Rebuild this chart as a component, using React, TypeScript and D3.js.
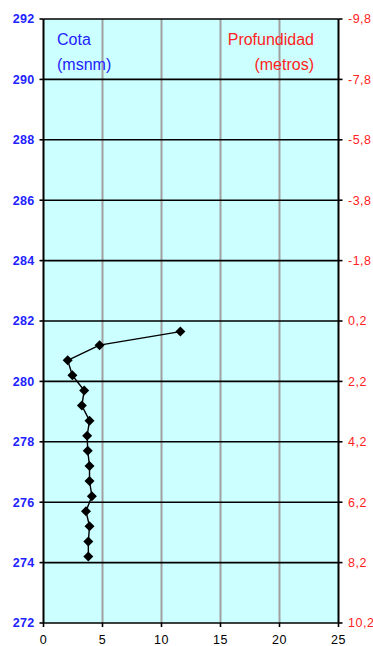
import React from "react";
import * as d3 from "d3";

const depths = [0.55, 1.0, 1.5, 2.0, 2.5, 3.0, 3.5, 4.0, 4.5, 5.0, 5.5, 6.0, 6.5, 7.0, 7.5, 8.0];
const values = [11.6, 4.75, 2.05, 2.45, 3.45, 3.25, 3.9, 3.7, 3.75, 3.9, 3.9, 4.1, 3.6, 3.9, 3.8, 3.8];
const surfaceElev = 282.2;
const leftTicks = [272, 274, 276, 278, 280, 282, 284, 286, 288, 290, 292];
const rightTickLabels = ["10,2", "8,2", "6,2", "4,2", "2,2", "0,2", "-1,8", "-3,8", "-5,8", "-7,8", "-9,8"];
const xTicks = [0, 5, 10, 15, 20, 25];

const W = 373, H = 646;
const M = { left: 43.5, right: 338.5, top: 19, bottom: 623 };

export default function App() {
  const x = d3.scaleLinear().domain([0, 25]).range([M.left, M.right]);
  const y = d3.scaleLinear().domain([272, 292]).range([M.bottom, M.top]);
  const pts = depths.map((d, i) => ({ e: surfaceElev - d, v: values[i] }));
  const line = d3.line<{ e: number; v: number }>().x((p) => x(p.v)).y((p) => y(p.e));
  const r = 5;
  const diamond = `M0,${-r}L${r},0L0,${r}L${-r},0Z`;
  const font = "'Liberation Sans', Arial, sans-serif";
  return (
    <svg width={W} height={H} style={{ position: "absolute", left: 0, top: 0, background: "#fff" }}>
      <rect x={M.left} y={M.top} width={M.right - M.left} height={M.bottom - M.top} fill="#CCFFFF" />
      {xTicks.slice(1, -1).map((t) => (
        <line key={"vx" + t} x1={x(t)} x2={x(t)} y1={M.top} y2={M.bottom} stroke="#a0a0a0" strokeWidth={2} />
      ))}
      {leftTicks.map((t) => (
        <line key={"hy" + t} x1={M.left} x2={M.right} y1={y(t)} y2={y(t)} stroke="#000" strokeWidth={1.6} />
      ))}
      <line x1={M.left} x2={M.left} y1={M.top} y2={M.bottom} stroke="#000" strokeWidth={2} />
      <line x1={M.right} x2={M.right} y1={M.top} y2={M.bottom} stroke="#000" strokeWidth={2} />
      {leftTicks.map((t, i) => (
        <g key={"lt" + t}>
          <line x1={M.left - 4} x2={M.left} y1={y(t)} y2={y(t)} stroke="#000" strokeWidth={1.6} />
          <line x1={M.right} x2={M.right + 4} y1={y(t)} y2={y(t)} stroke="#000" strokeWidth={1.6} />
          <text x={34.5} y={y(t)} dy="0.35em" textAnchor="end" fill="#2222FF" fontSize={12.5} fontFamily={font} fontWeight="bold" letterSpacing={0.3}>{t}</text>
          <text x={348} y={y(t)} dy="0.35em" textAnchor="start" fill="#FF2222" fontSize={12.5} fontFamily={font} letterSpacing={0.5}>{rightTickLabels[i]}</text>
        </g>
      ))}
      {xTicks.map((t) => (
        <g key={"xt" + t}>
          <line x1={x(t)} x2={x(t)} y1={M.bottom} y2={M.bottom + 4} stroke="#000" strokeWidth={1.6} />
          <text x={x(t)} y={644} textAnchor="middle" fill="#000" fontSize={12.5} fontFamily={font} letterSpacing={0.5}>{t}</text>
        </g>
      ))}
      <path d={line(pts) || ""} fill="none" stroke="#000" strokeWidth={1.4} />
      {pts.map((p, i) => (
        <path key={"m" + i} d={diamond} transform={`translate(${x(p.v)},${y(p.e)})`} fill="#000" />
      ))}
      <text x={57} y={45} fill="#2222FF" fontSize={16} fontFamily={font}>Cota</text>
      <text x={57} y={70} fill="#2222FF" fontSize={16} fontFamily={font}>(msnm)</text>
      <text x={314} y={45} textAnchor="end" fill="#FF2222" fontSize={16} fontFamily={font}>Profundidad</text>
      <text x={314} y={70} textAnchor="end" fill="#FF2222" fontSize={16} fontFamily={font}>(metros)</text>
    </svg>
  );
}
